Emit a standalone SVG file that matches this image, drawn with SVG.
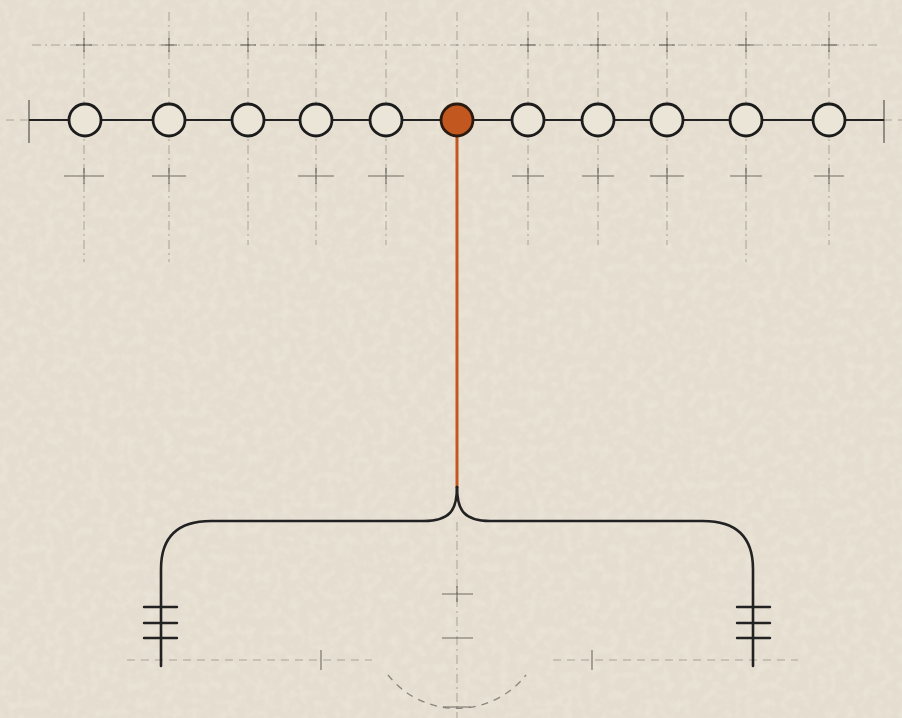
<svg xmlns="http://www.w3.org/2000/svg" width="902" height="718" viewBox="0 0 902 718">
  <defs>
    <filter id="paper" x="0" y="0" width="100%" height="100%">
      <feTurbulence type="fractalNoise" baseFrequency="0.11" numOctaves="2" seed="7" result="n"/>
      <feColorMatrix in="n" type="matrix" values="0 0 0 0 0.95  0 0 0 0 0.92  0 0 0 0 0.85  0 0 0 -1.4 0.8"/>
    </filter>
    <style>
      .grid { stroke: #5f5b55; stroke-width: 1; fill: none; stroke-dasharray: 9 4 2 4; opacity: 0.45; }
      .gridd { stroke: #6f6a62; stroke-width: 1; fill: none; stroke-dasharray: 8 6; opacity: 0.5; }
      .tick { stroke: #3e3a35; stroke-width: 1.1; fill: none; opacity: 0.7; }
      .arc { stroke: #8a857c; stroke-width: 1.3; fill: none; stroke-dasharray: 7 6; }
      .link { stroke: #222; stroke-width: 2.2; fill: none; }
      .node { fill: #ebe5d8; stroke: #1c1c1c; stroke-width: 2.8; }
      .hot { fill: #c2581f; stroke: #2a1a10; stroke-width: 2.8; }
      .stem { stroke: #c2581f; stroke-width: 3; fill: none; }
      .brace { stroke: #222; stroke-width: 2.6; fill: none; stroke-linecap: round; }
      .bar { stroke: #222; stroke-width: 2.4; fill: none; stroke-linecap: round; }
    </style>
  </defs>
  <rect width="902" height="718" fill="#e5ded0"/>
  <rect width="902" height="718" filter="url(#paper)" opacity="0.4"/>

  <g id="guides">
    <line class="grid" x1="32" y1="45" x2="878" y2="45"/>
    <g class="grid">
      <line x1="84" y1="12" x2="84" y2="262"/>
      <line x1="169" y1="12" x2="169" y2="262"/>
      <line x1="248" y1="12" x2="248" y2="245"/>
      <line x1="316" y1="12" x2="316" y2="245"/>
      <line x1="386" y1="12" x2="386" y2="245"/>
      <line x1="457" y1="12" x2="457" y2="100"/>
      <line x1="528" y1="12" x2="528" y2="245"/>
      <line x1="598" y1="12" x2="598" y2="245"/>
      <line x1="667" y1="12" x2="667" y2="245"/>
      <line x1="746" y1="12" x2="746" y2="262"/>
      <line x1="829" y1="12" x2="829" y2="245"/>
    </g>
    <g class="tick">
      <path d="M76 45h16M84 38v14M161 45h16M169 38v14M240 45h16M248 38v14M308 45h16M316 38v14M520 45h16M528 38v14M590 45h16M598 38v14M659 45h16M667 38v14M738 45h16M746 38v14M821 45h16M829 38v14"/>
      <path d="M64 176h40M84 168v16M152 176h34M169 168v16M298 176h36M316 168v16M368 176h36M386 168v16M512 176h32M528 168v16M582 176h32M598 168v16M650 176h34M667 168v16M730 176h32M746 168v16M814 176h30M829 168v16"/>
    </g>
    <line class="gridd" x1="6" y1="120" x2="30" y2="120"/>
    <line class="gridd" x1="884" y1="120" x2="902" y2="120"/>
    <path class="tick" d="M29 100v43M884 100v43" style="opacity:0.9"/>

    <line class="grid" x1="457" y1="522" x2="457" y2="718"/>
    <path class="tick" d="M442 594h31M457 586v16M442 638h31M443 707h28"/>
    <line class="gridd" x1="127" y1="660" x2="372" y2="660"/>
    <line class="gridd" x1="553" y1="660" x2="798" y2="660"/>
    <path class="tick" d="M321 650v20M592 650v20"/>
    <path class="arc" d="M388 675 A88 88 0 0 0 526 675"/>
  </g>

  <g id="connectors">
    <line class="link" x1="29" y1="120" x2="884" y2="120"/>
    <line class="stem" x1="457" y1="136" x2="457" y2="488"/>
    <path class="brace" d="M457 487 C457 510 450 521 424 521 L211 521 Q161 521 161 569 L161 666"/>
    <path class="brace" d="M457 487 C457 510 464 521 490 521 L703 521 Q753 521 753 569 L753 666"/>
    <path class="bar" d="M144 607h33M144 623h33M144 638h33"/>
    <path class="bar" d="M737 607h33M737 623h33M737 638h33"/>
  </g>

  <g id="n1"><circle class="node" cx="85" cy="120" r="16"/></g>
  <g id="n2"><circle class="node" cx="169" cy="120" r="16"/></g>
  <g id="n3"><circle class="node" cx="248" cy="120" r="16"/></g>
  <g id="n4"><circle class="node" cx="316" cy="120" r="16"/></g>
  <g id="n5"><circle class="node" cx="386" cy="120" r="16"/></g>
  <g id="n6"><circle class="hot" cx="457" cy="120" r="16"/></g>
  <g id="n7"><circle class="node" cx="528" cy="120" r="16"/></g>
  <g id="n8"><circle class="node" cx="598" cy="120" r="16"/></g>
  <g id="n9"><circle class="node" cx="667" cy="120" r="16"/></g>
  <g id="n10"><circle class="node" cx="746" cy="120" r="16"/></g>
  <g id="n11"><circle class="node" cx="829" cy="120" r="16"/></g>
</svg>
